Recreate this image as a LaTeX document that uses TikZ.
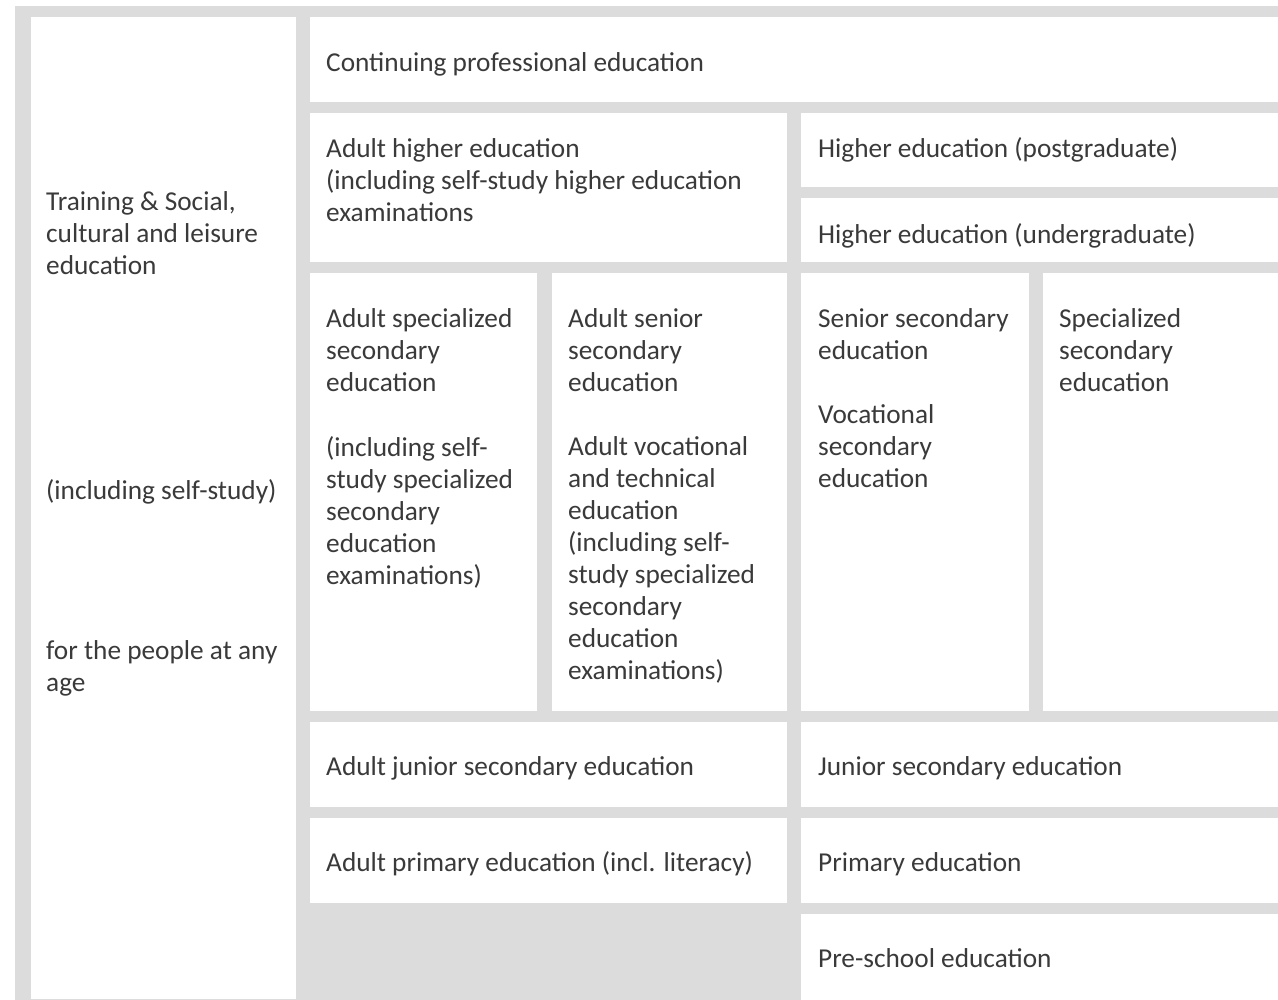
\documentclass[tikz,border=0pt]{standalone}
\usepackage{fontspec}
\setmainfont{Carlito}
\definecolor{gridgray}{HTML}{DCDCDC}
\definecolor{inkgray}{HTML}{3A3A3A}
\tikzset{%
	cell/.style={fill=white},
	entry/.style={anchor=north west,yshift=22.4pt,align=left,inner sep=0pt,text=inkgray,
		font=\fontsize{27.3}{32}\selectfont,execute at begin node=\strut},
	lines/.style={entry,yshift=-5pt},
}

\begin{document}
\begin{tikzpicture}[x=1pt,y=-1pt]
				\useasboundingbox (0,0) rectangle (1278,1000);
				\fill[gridgray] (15,6) rectangle (1278,1000);
				
				%levi stolpec
				\fill[cell] (31,17) rectangle (296,999);
				
				%odrasli
				\fill[cell] (310,17) rectangle (1278,102);
				\fill[cell] (310,113) rectangle (787,262);
				\fill[cell] (310,273) rectangle (537,711);
				\fill[cell] (552,273) rectangle (787,711);
				\fill[cell] (310,722) rectangle (787,807);
				\fill[cell] (310,818) rectangle (787,903);
				
				%redno izobrazevanje
				\fill[cell] (801,113) rectangle (1278,187);
				\fill[cell] (801,198) rectangle (1278,262);
				\fill[cell] (801,273) rectangle (1029,711);
				\fill[cell] (1043,273) rectangle (1278,711);
				\fill[cell] (801,722) rectangle (1278,807);
				\fill[cell] (801,818) rectangle (1278,903);
				\fill[cell] (801,914) rectangle (1278,1000);
				
				%besedila (y = osnovna crta prve vrstice)
				\node[lines] (training) at (46,209) {Training \& Social,\\cultural and leisure\\education};
				\node[entry] (selfstudy) at (46,499) {(including self-study)};
				\node[lines] (anyage) at (46,658) {for the people at any\\age};
				\node[entry] (continuing) at (326,71) {Continuing professional education};
				\node[lines] (adulthigher) at (326,156) {Adult higher education\\(including self-study higher education\\examinations};
				\node[entry] (postgrad) at (818,157) {Higher education (postgraduate)};
				\node[entry] (undergrad) at (818,243) {Higher education (undergraduate)};
				\node[lines] (adultspec) at (326,326) {Adult specialized\\secondary\\education};
				\node[lines] (adultspecexam) at (326,454) {(including self-\\study specialized\\secondary\\education\\examinations)};
				\node[lines] (adultsenior) at (568,326) {Adult senior\\secondary\\education};
				\node[lines] (adultvoc) at (568,454) {Adult vocational\\and technical\\education\\(including self-\\study specialized\\secondary\\education\\examinations)};
				\node[lines] (senior) at (818,326) {Senior secondary\\education};
				\node[lines] (vocational) at (818,422) {Vocational\\secondary\\education};
				\node[lines] (specialized) at (1059,326) {Specialized\\secondary\\education};
				\node[entry] (adultjunior) at (326,775) {Adult junior secondary education};
				\node[entry] (junior) at (818,775) {Junior secondary education};
				\node[entry] (adultprimary) at (326,871) {Adult primary education (incl. literacy)};
				\node[entry] (primary) at (818,871) {Primary education};
				\node[entry] (preschool) at (818,967) {Pre-school education};
			\end{tikzpicture}
\end{document}
